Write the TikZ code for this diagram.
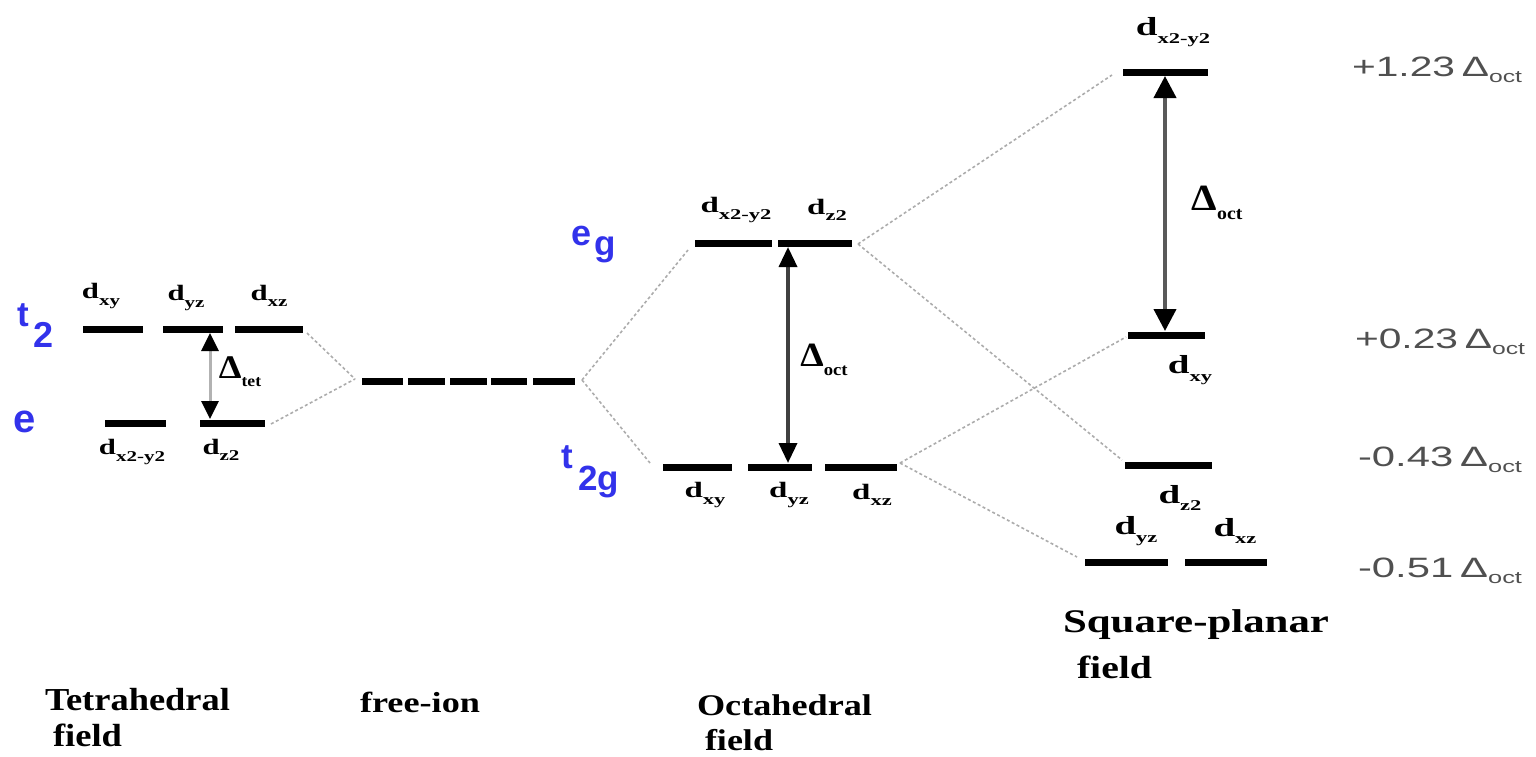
\documentclass[tikz,border=0pt]{standalone}
\usepackage{fontspec}
\usepackage{graphicx}
\setmainfont{Liberation Serif}
\newfontfamily\sansf{Liberation Sans}
\usetikzlibrary{arrows.meta}
\definecolor{lblue}{RGB}{50,50,235}
\definecolor{rgray}{RGB}{80,80,80}
\newcommand{\dorb}[3]{\scalebox{#1}[1]{\bfseries\fontsize{#2}{#2}\selectfont d\raisebox{-0.3em}{\fontsize{15}{15}\selectfont #3}}}
\newcommand{\dlt}[3]{\scalebox{1.1}[1]{\bfseries\fontsize{#1}{#1}\selectfont Δ\raisebox{-0.25em}{\fontsize{#2}{#2}\selectfont #3}}}
\newcommand{\rlab}[2]{\resizebox{#1pt}{\height}{\sansf\fontsize{28}{28}\selectfont #2\,Δ\raisebox{-6pt}{\fontsize{17}{17}\selectfont oct}}}
\newcommand{\blab}[3]{\resizebox{#1pt}{\height}{\bfseries\fontsize{#2}{#2}\selectfont #3}}
\begin{document}
\begin{tikzpicture}[x=1pt,y=-1pt,
  lvl/.style={line width=7pt,black},
  conn/.style={gray!65,line width=1.6pt,dash pattern=on 3pt off 2.5pt},
  lab/.style={inner sep=0pt,outer sep=0pt},
  blue/.style={inner sep=0pt,text=lblue,font=\sansf\bfseries},
  tetarrow/.style={line width=3pt,draw=gray!60,{Triangle[width=17pt,length=18pt,color=black]}-{Triangle[width=17pt,length=18pt,color=black]}},
  octarrow/.style={line width=3.5pt,draw=black!75,{Triangle[width=18pt,length=20pt,color=black]}-{Triangle[width=18pt,length=20pt,color=black]}},
  sqarrow/.style={line width=4pt,draw=black!65,{Triangle[width=22pt,length=22pt,color=black]}-{Triangle[width=22pt,length=22pt,color=black]}}
]
\useasboundingbox (0,0) rectangle (1536,756);
% ---------- tetrahedral ----------
\coordinate (t1a) at (83,329);  \coordinate (t1b) at (143,329);
\coordinate (t2a) at (163,329); \coordinate (t2b) at (223,329);
\coordinate (t3a) at (235,329); \coordinate (t3b) at (303,329);
\coordinate (e1a) at (105,423); \coordinate (e1b) at (166,423);
\coordinate (e2a) at (200,423); \coordinate (e2b) at (265,423);
\foreach \p in {t1,t2,t3,e1,e2} \draw[lvl] (\p a) -- (\p b);
\coordinate (tc1) at (307,333);
\coordinate (tc2) at (271,424);
\coordinate (jl) at (355,379);
\draw[conn] (tc1) -- (jl);
\draw[conn] (tc2) -- (jl);
\coordinate (ta1) at (210,333);
\coordinate (ta2) at (210,419);
\draw[tetarrow] (ta1) -- (ta2);
\node[lab] (Ltxy) at (101,296) {\dorb{1.4}{22}{xy}};
\node[lab] (Ltyz) at (186,298) {\dorb{1.4}{22}{yz}};
\node[lab] (Ltxz) at (269,296) {\dorb{1.4}{22}{xz}};
\node[lab] (Ltx2) at (132,452) {\dorb{1.4}{22}{x2-y2}};
\node[lab] (Ltz2) at (221,450) {\dorb{1.4}{22}{z2}};
\node[lab] (Ltdel) at (240,372) {\dlt{33}{16}{tet}};
\node[blue,anchor=base west] (Bt) at (17,326) {\fontsize{35}{35}\selectfont t};
\node[blue,anchor=base west] (B2) at (33,347) {\fontsize{36}{36}\selectfont 2};
\node[blue,anchor=base west] (Be) at (13,432) {\fontsize{40}{40}\selectfont e};
% ---------- free ion ----------
\coordinate (f1a) at (362,381); \coordinate (f1b) at (403,381);
\coordinate (f2a) at (408,381); \coordinate (f2b) at (445,381);
\coordinate (f3a) at (450,381); \coordinate (f3b) at (487,381);
\coordinate (f4a) at (491,381); \coordinate (f4b) at (527,381);
\coordinate (f5a) at (533,381); \coordinate (f5b) at (575,381);
\foreach \p in {f1,f2,f3,f4,f5} \draw[lvl] (\p a) -- (\p b);
\coordinate (jr) at (582,380);
% ---------- octahedral ----------
\coordinate (g1a) at (695,243); \coordinate (g1b) at (772,243);
\coordinate (g2a) at (778,243); \coordinate (g2b) at (852,243);
\coordinate (s1a) at (663,467); \coordinate (s1b) at (732,467);
\coordinate (s2a) at (748,467); \coordinate (s2b) at (812,467);
\coordinate (s3a) at (825,467); \coordinate (s3b) at (897,467);
\foreach \p in {g1,g2,s1,s2,s3} \draw[lvl] (\p a) -- (\p b);
\coordinate (oc0a) at (688,250);
\coordinate (oc0b) at (650,463);
\draw[conn] (jr) -- (oc0a);
\draw[conn] (jr) -- (oc0b);
\coordinate (oa1) at (788,247);
\coordinate (oa2) at (788,463);
\draw[octarrow] (oa1) -- (oa2);
\node[lab] (Lox2) at (736,210) {\dorb{1.5}{22}{x2-y2}};
\node[lab] (Loz2) at (827,210) {\dorb{1.5}{22}{z2}};
\node[lab] (Loxy) at (705,495) {\dorb{1.5}{22}{xy}};
\node[lab] (Loyz) at (789,495) {\dorb{1.5}{22}{yz}};
\node[lab] (Loxz) at (872,495) {\dorb{1.5}{22}{xz}};
\node[lab] (Lodel) at (824,360) {\dlt{34}{17}{oct}};
\node[blue,anchor=base west] (Beg) at (571,245) {\fontsize{36}{36}\selectfont e};
\node[blue,anchor=base west] (Bg) at (594,255) {\fontsize{35}{35}\selectfont g};
\node[blue,anchor=base west] (Bt2) at (561,468) {\fontsize{35}{35}\selectfont t};
\node[blue,anchor=base west] (B2g) at (578,490) {\fontsize{35}{35}\selectfont 2g};
% ---------- square planar ----------
\coordinate (q1a) at (1123,72);  \coordinate (q1b) at (1208,72);
\coordinate (q2a) at (1128,335); \coordinate (q2b) at (1205,335);
\coordinate (q3a) at (1125,465); \coordinate (q3b) at (1212,465);
\coordinate (q4a) at (1085,562); \coordinate (q4b) at (1168,562);
\coordinate (q5a) at (1185,562); \coordinate (q5b) at (1267,562);
\foreach \p in {q1,q2,q3,q4,q5} \draw[lvl] (\p a) -- (\p b);
\coordinate (oc1) at (858,244);
\coordinate (oc2) at (900,463);
\coordinate (qc1) at (1112,75);
\coordinate (qc3) at (1122,460);
\coordinate (qc2) at (1126,337);
\coordinate (qc4) at (1077,557);
\draw[conn] (oc1) -- (qc1);
\draw[conn] (oc1) -- (qc3);
\draw[conn] (oc2) -- (qc2);
\draw[conn] (oc2) -- (qc4);
\coordinate (qa1) at (1165,76);
\coordinate (qa2) at (1165,331);
\draw[sqarrow] (qa1) -- (qa2);
\node[lab] (Lqx2) at (1173,32) {\dorb{1.5}{26}{x2-y2}};
\node[lab] (Lqxy) at (1190,370) {\dorb{1.5}{26}{xy}};
\node[lab] (Lqz2) at (1180,498) {\dorb{1.5}{26}{z2}};
\node[lab] (Lqyz) at (1136,531) {\dorb{1.5}{26}{yz}};
\node[lab] (Lqxz) at (1235,531) {\dorb{1.5}{26}{xz}};
\node[lab] (Lqdel) at (1217,203) {\dlt{37}{18}{oct}};
% ---------- right values ----------
\node[lab,text=rgray,anchor=base west] (R1) at (1352,76) {\rlab{170}{+1.23}};
\node[lab,text=rgray,anchor=base west] (R2) at (1355,348) {\rlab{170}{+0.23}};
\node[lab,text=rgray,anchor=base west] (R3) at (1358,466) {\rlab{164}{-0.43}};
\node[lab,text=rgray,anchor=base west] (R4) at (1358,577) {\rlab{164}{-0.51}};
% ---------- bottom titles ----------
\node[lab,anchor=base west] (Tt1) at (45,710) {\blab{185}{32}{Tetrahedral}};
\node[lab,anchor=base west] (Tt2) at (53,746) {\blab{69}{32}{field}};
\node[lab,anchor=base west] (Tf) at (360,712) {\blab{120}{29}{free-ion}};
\node[lab,anchor=base west] (To1) at (697,715) {\blab{175}{30}{Octahedral}};
\node[lab,anchor=base west] (To2) at (705,750) {\blab{68}{30}{field}};
\node[lab,anchor=base west] (Ts1) at (1063,632) {\blab{266}{33}{Square-planar}};
\node[lab,anchor=base west] (Ts2) at (1077,678) {\blab{75}{32}{field}};
\end{tikzpicture}
\end{document}
